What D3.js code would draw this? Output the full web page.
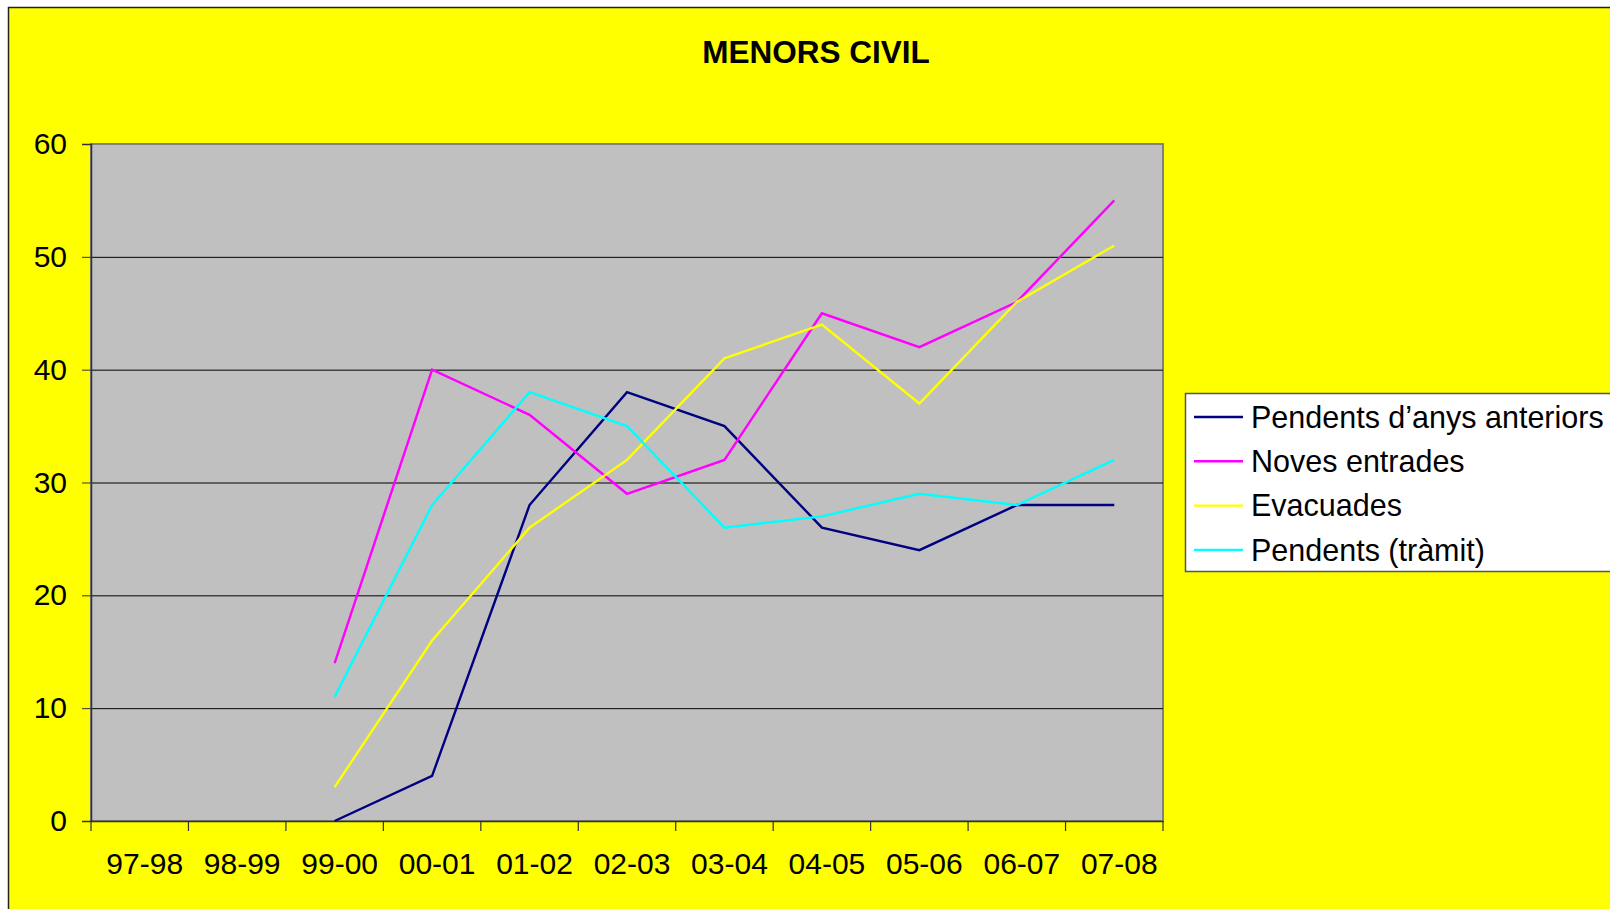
<!DOCTYPE html>
<html lang="ca">
<head>
<meta charset="utf-8">
<title>MENORS CIVIL</title>
<style>
  body { margin: 0; background: #fff; }
  svg { display: block; font-family: "Liberation Sans", Arial, sans-serif; }
  .axis text { font-size: 30px; fill: #000; }
  .legend text { font-size: 30.5px; fill: #000; }
</style>
</head>
<body>
<script src="https://cdn.jsdelivr.net/npm/d3@7/dist/d3.min.js"></script>
<script>

// data
var years = ["97-98", "98-99", "99-00", "00-01", "01-02", "02-03", "03-04", "04-05", "05-06", "06-07", "07-08"];
var seriesNames = ["Pendents d\u2019anys anteriors", "Noves entrades", "Evacuades", "Pendents (tr\u00e0mit)"];
var pendentsAnteriors = [null, null, 0, 4, 28, 38, 35, 26, 24, 28, 28];
var novesEntrades = [null, null, 14, 40, 36, 29, 32, 45, 42, 46, 55];
var evacuades = [null, null, 3, 16, 26, 32, 41, 44, 37, 46, 51];
var pendentsTramit = [null, null, 11, 28, 38, 35, 26, 27, 29, 28, 32];
var yTicks = [0, 10, 20, 30, 40, 50, 60];

var colors = ["#000080", "#FF00FF", "#FFFF00", "#00FFFF"];
var allSeries = [pendentsAnteriors, novesEntrades, evacuades, pendentsTramit];

var W = 1610, H = 909;
var plot = {left: 91, right: 1163, top: 144, bottom: 821};

var svg = d3.select("body").append("svg")
    .attr("width", W)
    .attr("height", H);

// chart background
svg.append("rect")
    .attr("x", 8.5).attr("y", 7.5)
    .attr("width", W + 20).attr("height", H + 20)
    .attr("fill", "#FFFF00")
    .attr("stroke", "#222")
    .attr("stroke-width", 1.5);

svg.append("text")
    .attr("x", 816)
    .attr("y", 63)
    .attr("text-anchor", "middle")
    .style("font-size", "31.5px")
    .style("font-weight", "bold")
    .text("MENORS CIVIL");

var x = d3.scaleBand()
    .domain(years)
    .range([plot.left, plot.right])
    .padding(0);

var y = d3.scaleLinear()
    .domain([0, 60])
    .range([plot.bottom, plot.top]);

// plot area
svg.append("rect")
    .attr("x", plot.left)
    .attr("y", plot.top)
    .attr("width", plot.right - plot.left)
    .attr("height", plot.bottom - plot.top)
    .attr("fill", "#C0C0C0")
    .attr("stroke", "#808080")
    .attr("stroke-width", 2);

// gridlines
svg.append("g").selectAll("line")
    .data(yTicks.filter(function(d) { return d > 0 && d < 60; }))
  .enter().append("line")
    .attr("x1", plot.left).attr("x2", plot.right)
    .attr("y1", function(d) { return y(d) + 0.5; })
    .attr("y2", function(d) { return y(d) + 0.5; })
    .attr("stroke", "#000")
    .attr("stroke-width", 1);

// y axis
var yAxis = d3.axisLeft(y).tickValues(yTicks).tickSize(9).tickPadding(15);
var gy = svg.append("g")
    .attr("class", "axis")
    .attr("transform", "translate(" + plot.left + ",0)")
    .call(yAxis);
gy.select(".domain").attr("stroke", "#333").attr("stroke-width", 1.5);
gy.selectAll(".tick line").attr("stroke", "#333");
gy.selectAll("text").style("font-family", "'Liberation Sans', Arial, sans-serif");

// x axis: labels at band centres, ticks on band edges
var xAxis = d3.axisBottom(x).tickSize(0).tickPadding(32);
var gx = svg.append("g")
    .attr("class", "axis")
    .attr("transform", "translate(0," + plot.bottom + ")")
    .call(xAxis);
gx.select(".domain").attr("stroke", "#333").attr("stroke-width", 1.5);
gx.selectAll("text")
    .attr("dx", 5)
    .style("font-family", "'Liberation Sans', Arial, sans-serif");

var edges = years.map(function(d) { return x(d); }).concat([plot.right]);
svg.append("g").selectAll("line")
    .data(edges)
  .enter().append("line")
    .attr("x1", function(d) { return d; })
    .attr("x2", function(d) { return d; })
    .attr("y1", plot.bottom)
    .attr("y2", plot.bottom + 10)
    .attr("stroke", "#333")
    .attr("stroke-width", 1.2);

// series lines
var line = d3.line()
    .defined(function(d) { return d != null; })
    .x(function(d, i) { return x(years[i]) + x.bandwidth() / 2; })
    .y(function(d) { return y(d); });

svg.append("g").selectAll("path")
    .data(allSeries)
  .enter().append("path")
    .attr("d", line)
    .attr("fill", "none")
    .attr("stroke", function(d, i) { return colors[i]; })
    .attr("stroke-width", 2.4);

// legend
var lg = svg.append("g").attr("class", "legend");
lg.append("rect")
    .attr("x", 1185.5).attr("y", 393.5)
    .attr("width", 500).attr("height", 178)
    .attr("fill", "#fff")
    .attr("stroke", "#555")
    .attr("stroke-width", 1.5);

var items = lg.selectAll("g.item")
    .data(seriesNames)
  .enter().append("g")
    .attr("class", "item")
    .attr("transform", function(d, i) { return "translate(0," + (417 + i * 44.3) + ")"; });

items.append("line")
    .attr("x1", 1194).attr("x2", 1243)
    .attr("y1", 0).attr("y2", 0)
    .attr("stroke", function(d, i) { return colors[i]; })
    .attr("stroke-width", 2.4);

items.append("text")
    .attr("x", 1251)
    .attr("y", 0)
    .attr("dy", "0.35em")
    .text(function(d) { return d; });

</script>
</body>
</html>
